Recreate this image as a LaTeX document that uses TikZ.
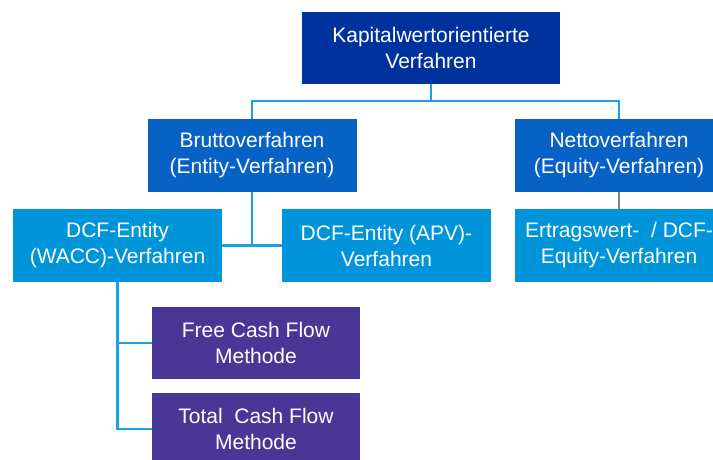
\documentclass[tikz,border=0pt]{standalone}
\usepackage{fontspec}
\setmainfont{Liberation Sans}
\usetikzlibrary{calc}

\definecolor{navy}{RGB}{0,50,158}
\definecolor{midblue}{RGB}{8,98,198}
\definecolor{lightblue}{RGB}{0,148,218}
\definecolor{violet}{RGB}{74,54,150}
\definecolor{linkblue}{RGB}{28,160,228}

\begin{document}
\begin{tikzpicture}[x=1pt, y=-1pt,
  box/.style={draw=none, text=white, align=center, inner sep=0,
    minimum width=209, minimum height=73,
    font=\fontsize{21}{26}\selectfont},
  link/.style={draw=linkblue, line width=2.2pt}]
\useasboundingbox (0,0) rectangle (713,459);
\begin{scope}
\clip (0,0) rectangle (713,459);
% levels
\node[box, fill=navy, minimum width=258, minimum height=72] (kap) at (431,48) {Kapitalwertorientierte\\Verfahren};
\node[box, fill=midblue] (brutto) at (252,155.5) {Bruttoverfahren\\(Entity-Verfahren)};
\node[box, fill=midblue] (netto) at (619,155.5) {Nettoverfahren\\(Equity-Verfahren)};
\node[box, fill=lightblue] (wacc) at (117.5,245.5) {DCF-Entity\\(WACC)-Verfahren};
\node[box, fill=lightblue] (apv) at (386.5,245.5) {DCF-Entity (APV)-\\Verfahren};
\node[box, fill=lightblue] (ertrag) at (619,245.5) {Ertragswert-~~/ DCF-\\Equity-Verfahren};
\node[box, fill=violet, minimum width=208, minimum height=72] (fcf) at (256,343) {Free Cash Flow\\Methode};
\node[box, fill=violet, minimum width=208, minimum height=72] (tcf) at (256,429) {Total~ Cash Flow\\Methode};

% connectors
\coordinate (top) at (431,101);
\draw[link] (kap.south) -- (top);
\draw[link] (brutto.north) |- (top) -| (netto.north);
\draw[link] (brutto.south) -- (brutto |- wacc.east);
\draw[link] (wacc.east) -- (apv.west);
\draw[gray, line width=2.2pt] (netto.south) -- (ertrag.north);
\draw[link] (wacc.south) |- (fcf.west);
\draw[link] (wacc.south) |- (tcf.west);
\end{scope}
\end{tikzpicture}
\end{document}
